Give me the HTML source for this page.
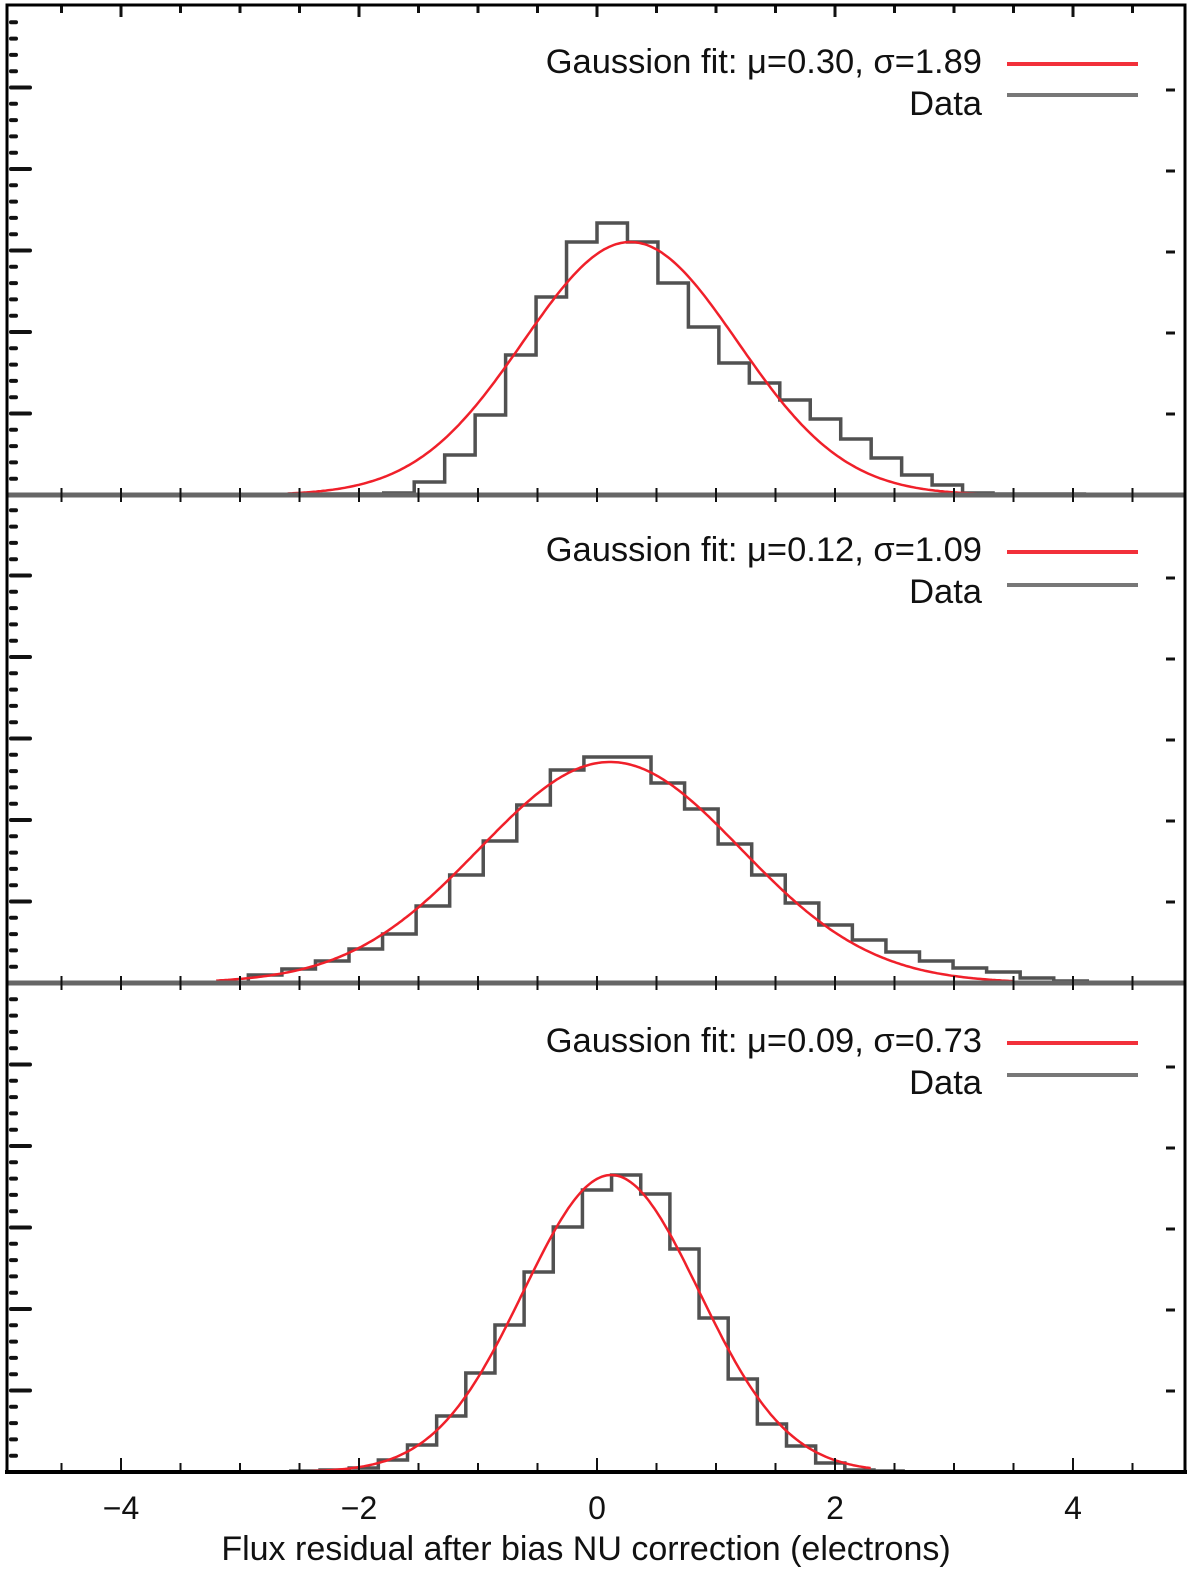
<!DOCTYPE html>
<html><head><meta charset="utf-8"><style>
html,body{margin:0;padding:0;background:#fff;}
svg text{font-family:"Liberation Sans",sans-serif;}
</style></head><body>
<svg id="chart" width="1200" height="1581" xmlns="http://www.w3.org/2000/svg">
<g id="marks"></g>
</svg>
<script>
// x-axis
const xTicksMajor=[-4,-2,0,2,4];
const xTickLabels=["\u22124","\u22122","0","2","4"];
// Panel 1
const p1Start=-2.304, p1Width=0.256;
const p1Counts=[1,1,2,13,40,80,140,198,253,272,253,212,168,132,112,95,76,56,37,20,10,2,1,1,1];
const p1Fit=[253,0.28,0.9];
const p1Label="Gaussion fit: \u03bc=0.30, \u03c3=1.89";
// Panel 2
const p2Start=-2.93, p2Width=0.282;
const p2Counts=[8,14,22,34,49,77,108,142,178,213,226,226,200,174,139,108,80,58,43,31,22,15,11,5,2];
const p2Fit=[221,0.11,1.1];
const p2Label="Gaussion fit: \u03bc=0.12, \u03c3=1.09";
// Panel 3
const p3Start=-2.5725, p3Width=0.245;
const p3Counts=[1,2,4,12,27,56,99,147,200,245,282,297,278,223,154,93,48,26,9,2,1];
const p3Fit=[297,0.12,0.74];
const p3Label="Gaussion fit: \u03bc=0.09, \u03c3=0.73";

const NS="http://www.w3.org/2000/svg";
const g=document.getElementById('marks');
function X(v){return 597+v*119;}
function mk(tag,attrs,parent){const e=document.createElementNS(NS,tag);for(const k in attrs)e.setAttribute(k,attrs[k]);(parent||g).appendChild(e);return e;}
const panels=[
 {base:495,start:p1Start,w:p1Width,counts:p1Counts,fit:p1Fit,label:p1Label,ly:73,ll:64,dy:95,fitRange:[-2.6,3.3],top:5},
 {base:983,start:p2Start,w:p2Width,counts:p2Counts,fit:p2Fit,label:p2Label,ly:561,ll:552,dy:585,fitRange:[-3.2,3.5],top:495},
 {base:1472,start:p3Start,w:p3Width,counts:p3Counts,fit:p3Fit,label:p3Label,ly:1052,ll:1043,dy:1075,fitRange:[-2.6,2.3],top:983}
];
function Y(p,v){return p.base-v;}
panels.forEach((p,i)=>{
  const pg=mk('g',{});
  
  
  let d='M'+X(p.start)+','+Y(p,0);
  p.counts.forEach((c,k)=>{
    const x0=X(p.start+k*p.w),x1=X(p.start+(k+1)*p.w);
    d+=' L'+x0+','+Y(p,c)+' L'+x1+','+Y(p,c);
  });
  d+=' L'+X(p.start+p.counts.length*p.w)+','+Y(p,0);
  const h=mk('path',{d:d,fill:'none',stroke:'#333','stroke-width':3.5,'stroke-opacity':0.85},pg);
  
  
  let fd='';
  const [A,mu,s]=p.fit;
  for(let x=p.fitRange[0];x<=p.fitRange[1]+1e-9;x+=0.02){
    const y=A*Math.exp(-0.5*((x-mu)/s)**2);
    fd+=(fd?' L':'M')+X(x).toFixed(1)+','+Y(p,y).toFixed(1);
  }
  const f=mk('path',{d:fd,fill:'none',stroke:'#f0202a','stroke-width':2.5},pg);
  
  
  const t=mk('text',{x:982,y:p.ly,'font-size':34.5,'text-anchor':'end',fill:'#111'},pg);
  t.textContent=p.label;
  
  
  const l1=mk('line',{x1:1007,x2:1138,y1:p.ll,y2:p.ll,stroke:'#f2303a','stroke-width':4},pg);
  
  
  const t2=mk('text',{x:982,y:p.ly+42,'font-size':34.5,'text-anchor':'end',fill:'#111'},pg);
  t2.textContent='Data';
  
  
  const l2=mk('line',{x1:1007,x2:1138,y1:p.dy,y2:p.dy,stroke:'#777','stroke-width':4},pg);
  
  
  for(let j=1;j<=5;j++){
    const yy=p.base-j*81;
    const rt=mk('line',{x1:1166,x2:1175,y1:yy,y2:yy,stroke:'#111','stroke-width':3},pg);
    
    
  }
  for(let j=1;j<30;j++){
    const yy=p.base-j*16.3;
    if(yy<p.top+8)break;
    const major=j%5===0;
    const lt=mk('line',{x1:11,x2:major?30:16,y1:yy,y2:yy,stroke:'#111','stroke-width':4,'stroke-linecap':'round'},pg);
    
    
  }
});
[495,983].forEach((yy,i)=>{
  const s=mk('line',{x1:7,x2:1185,y1:yy,y2:yy,stroke:'#666','stroke-width':5});
  
  
  for(let v=-4.5;v<=4.51;v+=0.5){
    const tk=mk('line',{x1:X(v),x2:X(v),y1:yy-7,y2:yy+7,stroke:'#111','stroke-width':2});
    
    
  }
});
for(let v=-4.5;v<=4.51;v+=0.5){
  const major=Math.abs(v-Math.round(v))<1e-6 && Math.round(v)%2===0;
  const t1=mk('line',{x1:X(v),x2:X(v),y1:5,y2:major?17:13,stroke:'#111','stroke-width':3});
  
  
  const t2=mk('line',{x1:X(v),x2:X(v),y1:1472,y2:major?1458:1463,stroke:'#111','stroke-width':2});
  
  
}
const fr=mk('path',{d:'M7,1472 L7,5 L1185,5 L1185,1472',fill:'none',stroke:'#000','stroke-width':3});


const ax=mk('line',{x1:5,x2:1187,y1:1472,y2:1472,stroke:'#000','stroke-width':4});


xTicksMajor.forEach((v,i)=>{
  const t=mk('text',{x:X(v),y:1519,'font-size':32,'text-anchor':'middle',fill:'#111'});
  t.textContent=xTickLabels[i];
  
  
});
const xt=mk('text',{x:586,y:1560,'font-size':34,'text-anchor':'middle',fill:'#111'});
xt.textContent='Flux residual after bias NU correction (electrons)';


</script>
</body></html>
